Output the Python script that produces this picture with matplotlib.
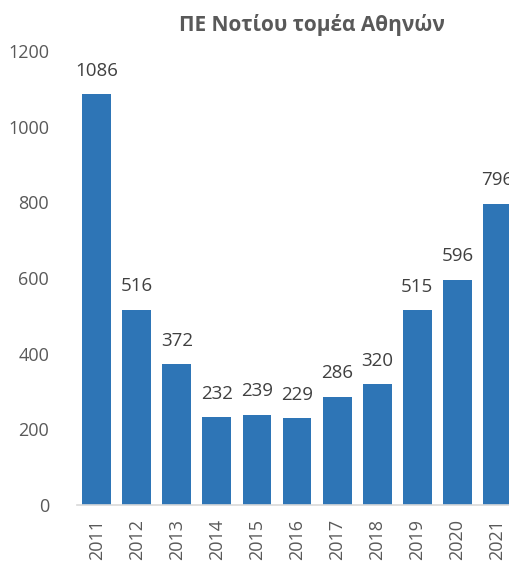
import matplotlib
matplotlib.use("Agg")
import matplotlib.pyplot as plt

# données
annees = ["2011", "2012", "2013", "2014", "2015", "2016",
          "2017", "2018", "2019", "2020", "2021"]
valeurs = [1086, 516, 372, 232, 239, 229, 286, 320, 515, 596, 796]
titre = "ΠΕ Νοτίου τομέα Αθηνών"

plt.rcParams["font.family"] = ["Open Sans", "DejaVu Sans"]
gris = "#595959"
bleu = "#2E75B6"

W, H = 510, 562
fig = plt.figure(figsize=(W / 100, H / 100), dpi=100)
# l'axe dépasse à droite comme dans l'original (dernière barre coupée)
ax = fig.add_axes([77 / W, (H - 505) / H, 440.5 / W, (505 - 51) / H])

x = list(range(len(annees)))
barres = ax.bar(x, valeurs, width=0.72, color=bleu, clip_on=False)
for xi, v in zip(x, valeurs):
    ax.text(xi, v + 38, str(v), ha="center", va="bottom",
            fontsize=13.5, color="#404040", clip_on=False)

ax.set_xlim(-0.49, len(annees) - 0.5)
ax.set_ylim(0, 1200)
ax.set_yticks(range(0, 1201, 200))
ax.set_xticks(x)
ax.set_xticklabels(annees, rotation=90)
ax.tick_params(axis="both", length=0, colors=gris, labelsize=13)
ax.tick_params(axis="y", pad=20)
ax.tick_params(axis="x", pad=10)

for cote in ["top", "right", "left"]:
    ax.spines[cote].set_visible(False)
ax.spines["bottom"].set_color("#D9D9D9")
ax.spines["bottom"].set_linewidth(1.2)

fig.text(312 / W, 1 - 25 / H, titre, ha="center", va="center",
         fontsize=15, fontweight="bold", color=gris)

fig.savefig("out.png", dpi=100)
